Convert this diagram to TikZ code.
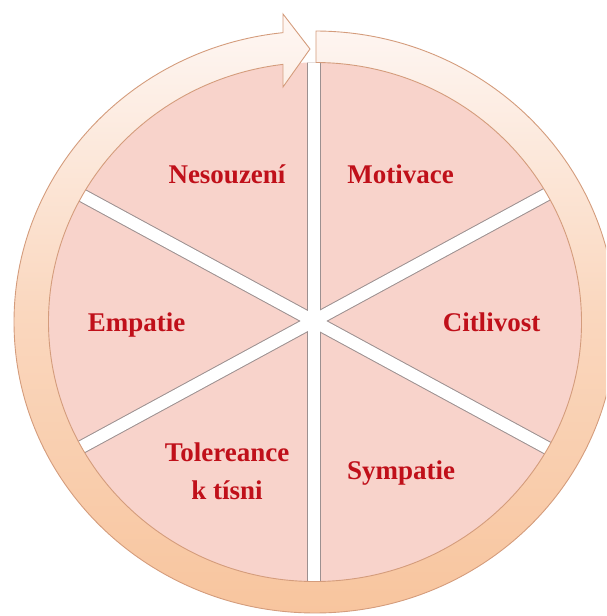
\documentclass[tikz,border=0pt]{standalone}
\usepackage{fontspec}
\setmainfont{Liberation Serif}
\usetikzlibrary{calc}
\definecolor{piefill}{HTML}{F8D3CB}
\definecolor{bargray}{HTML}{9C9090}
\definecolor{ringline}{HTML}{D49C7C}
\definecolor{ringtop}{HTML}{FEF7F4}
\definecolor{ringmid}{HTML}{FAD7BE}
\definecolor{ringbot}{HTML}{F8C59E}
\definecolor{lbltext}{RGB}{192,16,26}
\begin{document}
\begin{tikzpicture}[x=1pt,y=1pt,
  lbl/.style={font=\fontsize{27}{38}\selectfont\bfseries, text=lbltext, anchor=base, align=center, inner sep=0pt},
  ringstyle/.style={draw=ringline, line width=0.9pt, top color=ringtop, bottom color=ringbot, middle color=ringmid}]
\useasboundingbox (0,0) rectangle (606,616);
\clip (0,0) rectangle (606,616);
% pie
\fill[piefill] (315,294) ellipse[x radius=266.5, y radius=259.5];
% dividers
\begin{scope}
  \clip (315,294) ellipse[x radius=266.5, y radius=259.5];
  \coordinate (o) at (313.5,295);
  \foreach \a in {90,28.5,151.5}
    \draw[bargray, line width=14pt] ($(o)+(\a:330)$) -- ($(o)+(\a+180:330)$);
  \foreach \a in {90,28.5,151.5}
    \draw[white, line width=12pt] ($(o)+(\a:330)$) -- ($(o)+(\a+180:330)$);
\end{scope}
% circular arrow ring
\begin{scope}[shift={(315,294)}]
  \path[ringstyle] (89.81:301 and 291)
    arc[start angle=89.81, end angle=-263.9, x radius=301, y radius=291]
    -- (-32,308) -- (-5,273) -- (-32,235) -- (96.9:266.5 and 259.5)
    arc[start angle=96.9, end angle=449.785, x radius=266.5, y radius=259.5] -- cycle;
\end{scope}
% labels
\node[lbl] (nes) at (227,432) {Nesouzení};
\node[lbl] (mot) at (400.5,432) {Motivace};
\node[lbl] (emp) at (136.5,284) {Empatie};
\node[lbl] (cit) at (491.5,284) {Citlivost};
\node[lbl] (tol) at (227,116) {Tolereance\\k tísni};
\node[lbl] (sym) at (401,136) {Sympatie};
\end{tikzpicture}
\end{document}
